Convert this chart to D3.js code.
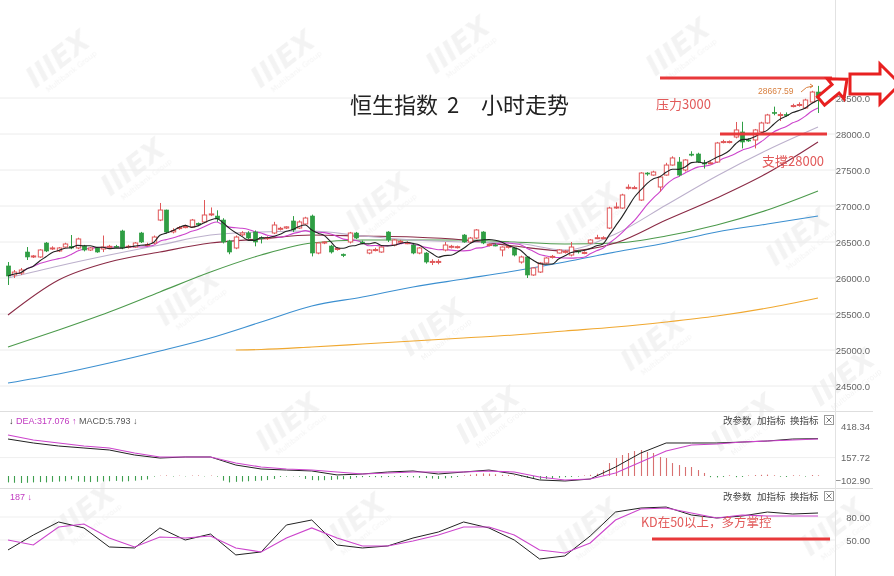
<!DOCTYPE html>
<html><head><meta charset="utf-8">
<script src="https://cdn.jsdelivr.net/npm/d3@7"></script>
<style>body{margin:0;background:#fff}svg{display:block}</style>
</head><body>
<svg id="c" width="894" height="576"></svg>
<script>
// ---------- DATA ----------
const openP=[26167,26042,26069,26361,26292,26292,26486,26403,26375,26430,26440,26417,26444,26389,26417,26403,26430,26440,26653,26430,26430,26625,26458,26486,26805,26944,26640,26690,26700,26708,26760,26778,26880,26860,26805,26514,26417,26600,26625,26639,26560,26550,26625,26680,26694,26792,26694,26750,26861,26347,26486,26444,26403,26330,26500,26625,26500,26347,26389,26361,26639,26458,26500,26486,26458,26347,26347,26222,26222,26389,26430,26430,26597,26500,26555,26639,26458,26458,26389,26430,26417,26222,26292,26042,26083,26208,26290,26347,26360,26319,26375,26347,26486,26555,26555,26694,26972,26972,27250,27250,27083,27458,27430,27264,27430,27569,27611,27500,27720,27722,27597,27597,27611,27889,27889,27958,28028,27917,27917,28028,28153,28300,28264,28270,28389,28403,28361,28444,28583];
const highP=[26222,26111,26139,26430,26319,26400,26500,26440,26430,26490,26597,26560,26460,26430,26430,26590,26460,26460,26670,26460,26500,26640,26490,26590,27042,26950,26690,26720,26740,26820,26770,27083,26980,26940,26830,26530,26590,26650,26650,26660,26580,26580,26780,26710,26720,26860,26800,26850,26880,26500,26510,26460,26430,26340,26640,26640,26520,26400,26420,26440,26650,26540,26530,26510,26470,26430,26360,26260,26260,26500,26460,26450,26610,26570,26680,26650,26480,26480,26440,26460,26430,26310,26300,26150,26220,26290,26320,26400,26390,26500,26390,26370,26540,26600,26580,26990,27050,27170,27300,27280,27470,27470,27490,27420,27600,27690,27680,27650,27760,27740,27640,27620,27890,27920,27910,28167,28170,27940,28070,28170,28280,28380,28300,28300,28420,28440,28490,28600,28668];
const lowP=[25903,26000,26042,26250,26278,26280,26360,26390,26360,26420,26400,26400,26370,26375,26350,26360,26410,26420,26400,26410,26420,26486,26440,26470,26790,26620,26620,26670,26690,26700,26720,26760,26860,26780,26480,26330,26400,26580,26540,26440,26480,26530,26610,26660,26680,26640,26680,26740,26300,26330,26470,26340,26380,26290,26480,26540,26470,26330,26370,26350,26500,26440,26480,26470,26330,26330,26200,26180,26190,26370,26410,26410,26490,26490,26540,26470,26440,26440,26300,26410,26300,26200,26000,26030,26070,26200,26270,26340,26340,26300,26340,26330,26470,26540,26540,26680,26960,26960,27230,27240,27070,27420,27420,27200,27420,27560,27410,27480,27690,27600,27520,27580,27600,27870,27870,27940,27800,27890,27800,28010,28140,28260,28180,28240,28370,28380,28350,28430,28292];
const closeP=[26028,26083,26111,26292,26306,26389,26375,26417,26417,26472,26417,26542,26389,26417,26361,26430,26440,26430,26417,26440,26486,26500,26465,26569,26944,26639,26660,26700,26715,26805,26740,26875,26890,26820,26500,26361,26569,26625,26555,26500,26550,26560,26736,26690,26710,26667,26778,26833,26347,26486,26500,26361,26410,26310,26625,26555,26490,26389,26395,26430,26528,26528,26510,26490,26347,26417,26222,26230,26230,26458,26440,26435,26500,26555,26667,26486,26465,26450,26430,26440,26319,26292,26042,26139,26208,26278,26300,26389,26370,26430,26361,26355,26528,26560,26560,26972,26986,27153,27260,27255,27458,27444,27472,27403,27569,27667,27430,27639,27708,27611,27590,27600,27875,27895,27895,28056,27889,27910,28056,28153,28264,28292,28270,28264,28395,28410,28472,28583,28500];

// long moving averages (candle index -> value)
const maIdx=[0,8,16,24,32,40,48,56,64,72,80,88,96,104,112,120,128];
const ma20=[26000,26167,26319,26458,26597,26639,26653,26583,26528,26500,26486,26389,26611,27014,27417,27778,28097];
const ma30=[25486,25972,26222,26361,26486,26542,26597,26583,26569,26528,26444,26375,26486,26805,27111,27458,27889];
const ma60=[25042,25278,25528,25806,26083,26319,26486,26528,26528,26528,26500,26472,26486,26583,26736,26944,27208];
const ma120=[24541,24667,24819,24986,25167,25389,25611,25736,25875,25986,26097,26222,26361,26486,26639,26750,26861];
const ma250Idx=[36,40,48,56,64,72,80,88,96,104,112,120,128];
const ma250=[25000,25007,25042,25083,25125,25167,25208,25264,25319,25389,25472,25583,25722];

// sub panels, sampled every 4 candles
const subIdx=[0,4,8,12,16,20,24,28,32,36,40,44,48,52,56,60,64,68,72,76,80,84,88,92,96,100,104,108,112,116,120,124,128];
const dif=[317,283,257,240,223,180,154,163,163,94,60,51,43,9,17,34,43,17,34,51,17,-34,-43,-26,77,197,283,283,283,291,300,317,320];
const dea=[351,309,283,257,240,197,163,163,163,111,77,60,51,34,17,26,34,34,34,43,34,-9,-34,-26,26,120,214,266,274,291,300,309,317.076];
const macdHist=[-55,-58,-60,-58,-55,-52,-55,-50,-48,-45,-30,-48,-50,-52,-50,-47,-45,-42,-48,-45,-40,-35,-30,
 -5,3,5,-4,3,-3,4,5,-3,4,-5,
 -40,-55,-50,-48,-45,-42,-40,-35,-25,
 -8,-5,-3,-5,
 -25,-35,-38,-36,-34,-30,-28,-25,
 -12,-10,-8,-10,-12,-8,-6,-8,-10,-12,-15,-18,
 -22,-25,-20,-15,-8,5,
 12,18,22,20,15,10,8,5,-5,
 -15,-25,-28,-25,-20,-15,-10,-8,-5,
 5,10,20,
 51,111,154,180,197,214,223,206,197,163,154,111,94,77,77,51,26,
 -10,-12,-8,6,-10,-8,5,8,10,12,6,-6,-8,6,5,-5,8,5.793];
const kdK=[37.0,56.5,73.5,65.7,40.9,39.6,65.7,50.0,57.8,30.5,34.4,69.6,76.1,43.5,39.6,42.2,52.6,60.4,73.5,65.7,50.0,25.2,29.2,55.2,86.5,91.7,93.0,82.6,78.7,81.3,86.5,83.9,85.2];
const kdD=[50.0,43.5,67.0,70.9,52.6,40.9,53.9,52.6,55.2,39.6,34.4,52.6,65.7,52.6,42.2,42.2,48.7,56.5,67.0,67.0,56.5,37.0,33.1,46.1,76.1,90.4,91.7,85.2,78.7,82.6,81.3,81.3,81.3];

const priceTicks=[24500,25000,25500,26000,26500,27000,27500,28000,28500];
const macdTicks=[418.34,157.72,-102.90];
const kdTicks=[80,50];

// ---------- DRAW ----------
const svg=d3.select("#c");
svg.append("rect").attr("width",894).attr("height",576).attr("fill","#fff");

const N=closeP.length;
const x=d3.scaleLinear().domain([0,N-1]).range([8,818]);
const y=d3.scaleLinear().domain([24500,28500]).range([386,98]);
const ym=d3.scaleLinear().domain([-102.9,418.34]).range([488,427.2]);
const yk=d3.scaleLinear().domain([50,80]).range([540,517]);

// watermarks (kept inside the canvas)
const wm=[[60,62],[285,62],[460,48],[680,50],[135,170],[380,205],[590,215],[800,240],[190,300],[435,330],[655,345],[845,380],[290,425],[490,418],[745,425],[85,515],[355,525],[590,530],[835,530]];
const wg=svg.append("g").attr("opacity",0.075);
wm.forEach(p=>{
  const g=wg.append("g").attr("transform",`translate(${p[0]},${p[1]}) rotate(-38)`);
  g.append("text").attr("x",-36).attr("y",6).attr("font-family","DejaVu Sans").attr("font-weight","bold")
   .attr("font-style","italic").attr("font-size",28).attr("fill","#666").text("IIIEX");
  g.append("text").attr("x",-28).attr("y",17).attr("font-family","DejaVu Sans").attr("font-size",7.5)
   .attr("fill","#666").text("Multibank Group");
});

// gridlines
svg.append("g").selectAll("line").data(priceTicks).join("line")
  .attr("x1",0).attr("x2",835).attr("y1",d=>y(d)).attr("y2",d=>y(d))
  .attr("stroke","#ececec").attr("stroke-width",1);
svg.append("line").attr("x1",0).attr("x2",835).attr("y1",ym(157.72)).attr("y2",ym(157.72)).attr("stroke","#efefef");
svg.append("g").selectAll("line").data(kdTicks).join("line")
  .attr("x1",0).attr("x2",835).attr("y1",d=>yk(d)).attr("y2",d=>yk(d)).attr("stroke","#efefef");
// panel separators
[411.5,488.5].forEach(v=>svg.append("line").attr("x1",0).attr("x2",873).attr("y1",v).attr("y2",v).attr("stroke","#dedede"));
svg.append("line").attr("x1",835.5).attr("x2",835.5).attr("y1",0).attr("y2",576).attr("stroke","#e2e2e2");

// axes labels
const axisFont="Liberation Sans";
const pa=d3.axisRight(y).tickValues(priceTicks).tickSize(0).tickFormat(d=>d3.format(".1f")(d));
const pg=svg.append("g").attr("transform","translate(870,0)").call(pa);
pg.select(".domain").remove();
pg.selectAll("text").attr("x",0).attr("text-anchor","end").attr("font-family",axisFont).attr("font-size",9.5).attr("fill","#666");

const ma=d3.axisRight(ym).tickValues(macdTicks).tickSize(0).tickFormat(d=>d3.format(".2f")(d));
const mg=svg.append("g").attr("transform","translate(870,0)").call(ma);
mg.select(".domain").remove();
mg.selectAll(".tick").attr("transform",d=>`translate(0,${Math.min(ym(d),481)})`);
mg.selectAll("text").attr("x",0).attr("text-anchor","end").attr("font-family",axisFont).attr("font-size",9.5).attr("fill","#666");

const ka=d3.axisRight(yk).tickValues(kdTicks).tickSize(0).tickFormat(d=>d3.format(".2f")(d));
const kg=svg.append("g").attr("transform","translate(870,0)").call(ka);
kg.select(".domain").remove();
kg.selectAll("text").attr("x",0).attr("text-anchor","end").attr("font-family",axisFont).attr("font-size",9.5).attr("fill","#666");

// moving averages
const sma=(arr,n)=>arr.map((_,i)=>d3.mean(arr.slice(Math.max(0,i-n+1),i+1)));
const ma5=sma(closeP,5), ma10=sma(closeP,10);
const lineIdx=(idx,vals,ys,curve)=>d3.line().x((d,i)=>x(idx[i])).y(d=>ys(d)).curve(curve||d3.curveMonotoneX)(vals);
const lines=[
  [ma250Idx,ma250,"#f0a830"],
  [maIdx,ma120,"#3b8fd0"],
  [maIdx,ma60,"#4c9a4c"],
  [maIdx,ma30,"#8a2a45"],
  [maIdx,ma20,"#bcb0cc"],
];
lines.forEach(l=>svg.append("path").attr("d",lineIdx(l[0],l[1],y)).attr("fill","none").attr("stroke",l[2]).attr("stroke-width",1.1));
const allIdx=d3.range(N);
svg.append("path").attr("d",lineIdx(allIdx,ma10,y)).attr("fill","none").attr("stroke","#cc44cc").attr("stroke-width",1.1);

// candles
const up="#e0585a", dn="#2f9e44", bw=4.4;
const cg=svg.append("g");
allIdx.forEach(i=>{
  const o=openP[i],c=closeP[i],h=highP[i],l=lowP[i];
  const isUp=c>=o, col=isUp?up:dn, cx=Math.round(x(i))+0.5;
  cg.append("line").attr("x1",cx).attr("x2",cx).attr("y1",y(h)).attr("y2",y(l)).attr("stroke",col).attr("stroke-width",1);
  const t=y(Math.max(o,c)), b=y(Math.min(o,c));
  cg.append("rect").attr("x",cx-bw/2).attr("y",t).attr("width",bw).attr("height",Math.max(1,b-t))
    .attr("fill",isUp?"#fff":dn).attr("stroke",col).attr("stroke-width",isUp?1:0.6);
});
svg.append("path").attr("d",lineIdx(allIdx,ma5,y)).attr("fill","none").attr("stroke","#222").attr("stroke-width",1.1);

// MACD
svg.append("g").selectAll("line").data(macdHist).join("line")
  .attr("x1",(d,i)=>Math.round(x(i))+0.5).attr("x2",(d,i)=>Math.round(x(i))+0.5)
  .attr("y1",ym(0)).attr("y2",d=>ym(d)).attr("stroke",d=>d>=0?"#d87070":"#3f9f4f").attr("stroke-width",1.1);
svg.append("path").attr("d",lineIdx(subIdx,dif,ym,d3.curveLinear)).attr("fill","none").attr("stroke","#222").attr("stroke-width",1);
svg.append("path").attr("d",lineIdx(subIdx,dea,ym,d3.curveLinear)).attr("fill","none").attr("stroke","#cc44cc").attr("stroke-width",1.1);

// KD
svg.append("path").attr("d",lineIdx(subIdx,kdK,yk,d3.curveLinear)).attr("fill","none").attr("stroke","#222").attr("stroke-width",1);
svg.append("path").attr("d",lineIdx(subIdx,kdD,yk,d3.curveLinear)).attr("fill","none").attr("stroke","#cc44cc").attr("stroke-width",1.1);

// panel headers
const hf="Liberation Sans";
const hdr=svg.append("text").attr("x",9).attr("y",424).attr("font-family",hf).attr("font-size",9);
hdr.append("tspan").attr("fill","#222").text("↓ ");
hdr.append("tspan").attr("fill","#c03ac0").text("DEA:317.076 ↑ ");
hdr.append("tspan").attr("fill","#555").text("MACD:5.793 ↓");
const hdr2=svg.append("text").attr("x",10).attr("y",500).attr("font-family",hf).attr("font-size",9).attr("fill","#c03ac0");
hdr2.text("187 ↓");
[424,500].forEach(by=>{
  [["改参数",723],["加指标",757],["换指标",790]].forEach(b=>svg.append("text").attr("x",b[1]).attr("y",by)
    .attr("font-family","Noto Sans CJK SC").attr("font-size",9.5).attr("fill","#444").text(b[0]));
  svg.append("rect").attr("x",824.5).attr("y",by-8.5).attr("width",9).attr("height",9).attr("fill","#fff").attr("stroke","#999");
  svg.append("path").attr("d",`M826.5,${by-6.5}L831.5,${by-1.5}M831.5,${by-6.5}L826.5,${by-1.5}`).attr("stroke","#777");
});

// title
const tf="Noto Sans CJK SC";
[["恒生指数",350],["2",447],["小时走势",481]].forEach(t=>svg.append("text").attr("x",t[1]).attr("y",113)
  .attr("font-family",tf).attr("font-size",22).attr("fill","#222").text(t[0]));

// annotations
const red="#e8383a", tred="#e25a5a";
svg.append("line").attr("x1",660).attr("x2",832).attr("y1",78).attr("y2",78).attr("stroke",red).attr("stroke-width",3);
svg.append("line").attr("x1",720).attr("x2",827).attr("y1",134).attr("y2",134).attr("stroke",red).attr("stroke-width",3);
svg.append("line").attr("x1",652).attr("x2",830).attr("y1",539).attr("y2",539).attr("stroke",red).attr("stroke-width",3);
svg.append("text").attr("x",656).attr("y",109).attr("font-family",tf).attr("font-size",13).attr("fill",tred).text("压力3000");
svg.append("text").attr("x",762).attr("y",166).attr("font-family",tf).attr("font-size",13).attr("fill",tred).text("支撑28000");
svg.append("text").attr("x",641).attr("y",527).attr("font-family",tf).attr("font-size",12.5).attr("fill",tred).text("KD在50以上，多方掌控");
svg.append("text").attr("x",758).attr("y",94).attr("font-family",hf).attr("font-size",8.5).attr("fill","#d88040").text("28667.59");
svg.append("path").attr("d","M801,92 Q806,86 813,86 M810,84 L813,86 L810,88").attr("fill","none").attr("stroke","#d88040").attr("stroke-width",1);

// block arrows
const arrowPath=(L,sw,hw,hl)=>`M0,${-sw/2}L${L-hl},${-sw/2}L${L-hl},${-hw/2}L${L},0L${L-hl},${hw/2}L${L-hl},${sw/2}L0,${sw/2}Z`;
svg.append("path").attr("d",arrowPath(34,11,26,15)).attr("transform","translate(821,101) rotate(-40)")
  .attr("fill","#fff").attr("stroke","#e82020").attr("stroke-width",3).attr("stroke-linejoin","miter");
svg.append("path").attr("d",arrowPath(50,20,40,20)).attr("transform","translate(850,84)")
  .attr("fill","#fff").attr("stroke","#e82020").attr("stroke-width",3).attr("stroke-linejoin","miter");
</script>
</body></html>
